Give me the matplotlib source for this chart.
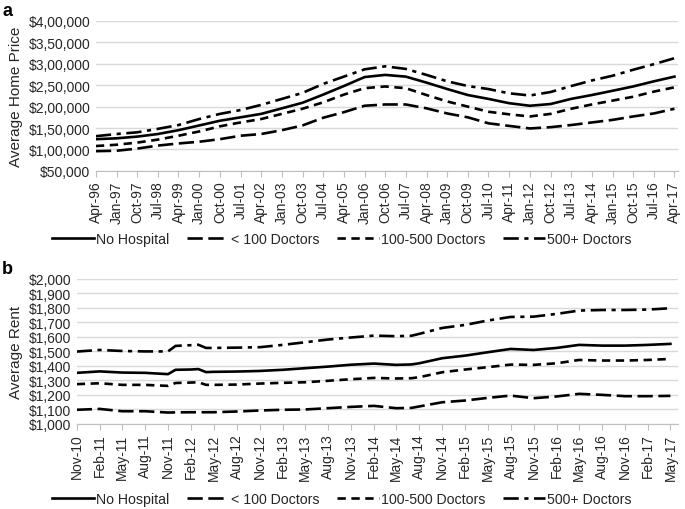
import pandas as pd
import matplotlib
matplotlib.use("Agg")
import matplotlib.pyplot as plt
import matplotlib.dates as mdates

plt.rcParams['font.family'] = ['Liberation Sans', 'DejaVu Sans']
plt.rcParams['lines.scale_dashes'] = False

# panel a: average home price, read every 9 months from Apr-96
home_dates = pd.date_range('1996-04-01', '2017-04-01', freq='9MS')
home_no_hosp = [124, 126, 130, 136, 145, 156, 167, 175, 183, 196, 209, 228, 248, 269, 274,
                270, 256, 241, 227, 218, 208, 202, 206, 218, 227, 237, 247, 259, 270]
home_lt100 = [96, 97, 102, 109, 114, 118, 124, 132, 136, 145, 156, 174, 187, 202, 205,
              205, 196, 184, 175, 161, 155, 149, 152, 157, 163, 169, 177, 184, 195]
home_100_500 = [108, 111, 116, 123, 132, 142, 154, 163, 171, 183, 195, 210, 228, 243, 247,
                243, 227, 212, 200, 188, 182, 177, 183, 195, 205, 214, 223, 235, 245]
home_500p = [131, 136, 140, 148, 157, 171, 183, 192, 204, 218, 232, 253, 270, 287, 294,
             288, 274, 259, 248, 241, 231, 226, 234, 248, 261, 272, 286, 299, 313]
home_yticks = [50000, 100000, 150000, 200000, 250000, 300000, 350000, 400000]
home_ylabels = ['$50,000', '$1,00,000', '$1,50,000', '$2,00,000', '$2,50,000',
                '$3,00,000', '$3,50,000', '$4,00,000']

# panel b: average rent
rent_dates = pd.to_datetime(['2010-11-01', '2011-02-01', '2011-05-01', '2011-08-01', '2011-11-01',
                             '2011-12-01', '2012-02-01', '2012-03-01', '2012-04-01', '2012-05-01',
                             '2012-08-01', '2012-11-01', '2013-02-01', '2013-05-01', '2013-08-01',
                             '2013-11-01', '2014-02-01', '2014-05-01', '2014-07-01', '2014-08-01',
                             '2014-11-01', '2015-02-01', '2015-05-01', '2015-08-01', '2015-11-01',
                             '2016-02-01', '2016-05-01', '2016-08-01', '2016-11-01', '2017-02-01',
                             '2017-05-01'])
rent_no_hosp = [1352, 1362, 1354, 1352, 1343, 1373, 1375, 1378, 1357, 1359, 1361, 1365, 1373, 1384,
                1395, 1408, 1416, 1407, 1410, 1418, 1453, 1471, 1494, 1517, 1510, 1524, 1545, 1540,
                1540, 1545, 1552]
rent_lt100 = [1097, 1103, 1087, 1087, 1078, 1079, 1080, 1080, 1080, 1080, 1085, 1092, 1097, 1099,
              1108, 1117, 1124, 1108, 1110, 1120, 1149, 1161, 1179, 1195, 1177, 1189, 1207, 1200,
              1191, 1191, 1193]
rent_100_500 = [1274, 1280, 1269, 1269, 1262, 1282, 1285, 1287, 1269, 1269, 1271, 1278, 1283, 1287,
                1297, 1308, 1317, 1313, 1315, 1322, 1356, 1375, 1391, 1409, 1407, 1418, 1441, 1437,
                1437, 1441, 1448]
rent_500p = [1499, 1510, 1503, 1500, 1500, 1538, 1543, 1546, 1524, 1524, 1526, 1529, 1545, 1563,
             1582, 1596, 1609, 1605, 1608, 1621, 1662, 1683, 1713, 1738, 1740, 1759, 1782, 1786,
             1786, 1789, 1798]
rent_ticks = pd.date_range('2010-11-01', '2017-05-01', freq='3MS')
rent_yticks = list(range(1000, 2001, 100))
rent_ylabels = ['$' + format(v, ',') for v in rent_yticks]

labels = ['No Hospital', '< 100 Doctors', '100-500 Doctors', '500+ Doctors']
styles = [dict(linestyle='-'),
          dict(dashes=(11, 4)),
          dict(dashes=(6, 4)),
          dict(dashes=(11, 4, 3, 4))]

fig = plt.figure(figsize=(6.85, 5.10), dpi=100)
ax1 = fig.add_axes([0.140, 0.663, 0.850, 0.294])
ax2 = fig.add_axes([0.112, 0.167, 0.878, 0.284])


def style_axis(ax, ticks, yticks, ylabels, ylabel):
    ax.set_xticks(ticks)
    ax.xaxis.set_major_formatter(mdates.DateFormatter('%b-%y'))
    ax.tick_params(axis='x', rotation=90, labelsize=10, length=4, color='#bfbfbf',
                   labelcolor='#262626', pad=3)
    ax.set_yticks(yticks)
    ax.set_yticklabels(ylabels)
    ax.tick_params(axis='y', length=0, labelsize=10, labelcolor='#262626', pad=4)
    ax.grid(axis='y', color='#d9d9d9', linewidth=1)
    ax.set_axisbelow(True)
    for s in ['top', 'right', 'left']:
        ax.spines[s].set_visible(False)
    ax.spines['bottom'].set_color('#bfbfbf')
    ax.set_ylabel(ylabel, fontsize=11, color='#262626')


series_a = [home_no_hosp, home_lt100, home_100_500, home_500p]
for vals, lab, st in zip(series_a, labels, styles):
    ax1.plot(home_dates, [v * 1000 for v in vals], color='black', lw=1.9,
             dash_capstyle='butt', label=lab, **st)
style_axis(ax1, home_dates, home_yticks, home_ylabels, 'Average Home Price')
ax1.set_ylim(50000, 400000)
ax1.set_xlim(home_dates[0], pd.Timestamp('2017-05-20'))

series_b = [rent_no_hosp, rent_lt100, rent_100_500, rent_500p]
for vals, lab, st in zip(series_b, labels, styles):
    ax2.plot(rent_dates, vals, color='black', lw=1.9, dash_capstyle='butt', label=lab, **st)
style_axis(ax2, rent_ticks, rent_yticks, rent_ylabels, 'Average Rent')
ax2.set_ylim(1000, 2000)
ax2.set_xlim(rent_ticks[0], pd.Timestamp('2017-06-01'))

for ax, y in [(ax1, 0.529), (ax2, 0.020)]:
    ax.legend(loc='center', bbox_to_anchor=(0.499, y), bbox_transform=fig.transFigure,
              ncol=4, frameon=False, fontsize=10.2, handlelength=2.9, handletextpad=0.15,
              columnspacing=1.3, labelcolor='#262626')

fig.text(0.003, 0.978, 'a', fontsize=13, fontweight='bold', va='center')
fig.text(0.003, 0.472, 'b', fontsize=13, fontweight='bold', va='center')

fig.savefig('out.png', dpi=100)
